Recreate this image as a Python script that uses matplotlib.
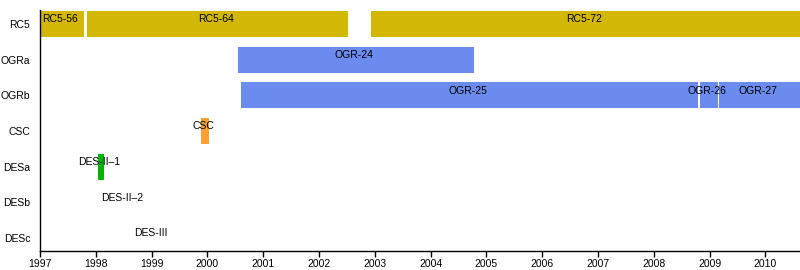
import matplotlib
matplotlib.use("Agg")
import matplotlib.pyplot as plt

rows = ["RC5", "OGRa", "OGRb", "CSC", "DESa", "DESb", "DESc"]

bar_rows   = ["RC5", "RC5", "RC5", "OGRa", "OGRb", "OGRb", "OGRb", "CSC", "DESa", "DESb", "DESc"]
bar_labels = ["RC5-56", "RC5-64", "RC5-72", "OGR-24", "OGR-25", "OGR-26", "OGR-27", "CSC", "DES-II–1", "DES-II–2", "DES-III"]
bar_start  = [1997.0, 1997.84, 2002.93, 2000.55, 2000.60, 2008.82, 2009.17, 1999.89, 1998.04, 1998.50, 1999.02]
bar_end    = [1997.78, 2002.52, 2010.62, 2004.78, 2008.80, 2009.15, 2010.62, 2000.03, 1998.15, 1998.50, 1999.02]
bar_colors = ["#d2b804", "#d2b804", "#d2b804", "#6b8bef", "#6b8bef", "#6b8bef", "#6b8bef",
              "#ffa030", "#00b400", "#00b400", "#00b400"]

years = list(range(1997, 2011))

plt.rcParams['font.family'] = ['Liberation Sans', 'DejaVu Sans']
fig = plt.figure(figsize=(8, 2.7), dpi=100)
ax = fig.add_axes([0.05, 0.072, 0.95, 0.891])

ypos = {r: i for i, r in enumerate(rows)}
for r, lab, s, e, c in zip(bar_rows, bar_labels, bar_start, bar_end, bar_colors):
    y = ypos[r]
    if e > s:
        ax.barh(y, e - s, left=s, height=0.73, color=c, linewidth=0)
    ax.text((s + e) / 2 - 0.03, y - 0.13, lab, ha="center", va="center", fontsize=7.5, color="black")

ax.set_xlim(1997, 2010.62)
ax.set_ylim(6.35, -0.39)
ax.set_yticks(range(len(rows)))
ax.set_yticklabels(rows, fontsize=7.5)
ax.tick_params(axis="y", length=0, pad=7)
ax.set_xticks(years)
ax.set_xticklabels([str(y) for y in years], fontsize=7.5)
ax.tick_params(axis="x", length=4, width=1, pad=2)
for side in ["top", "right"]:
    ax.spines[side].set_visible(False)
ax.spines["left"].set_linewidth(1)
ax.spines["bottom"].set_linewidth(1)

fig.savefig("out.png", dpi=100)
